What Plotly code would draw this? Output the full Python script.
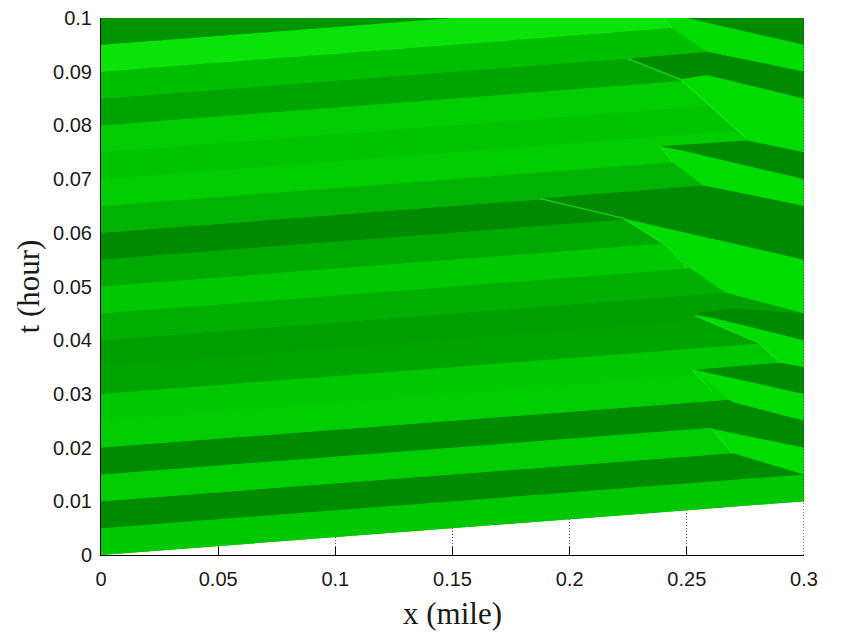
import plotly.graph_objects as go

# wave fronts entering at x=0, one band per 0.005 h
t_left = [0, 0.005, 0.01, 0.015, 0.02, 0.025, 0.03, 0.035, 0.04, 0.045,
          0.05, 0.055, 0.06, 0.065, 0.07, 0.075, 0.08, 0.085, 0.09, 0.095]
t_right = [0.01, 0.015, 0.02, 0.025, 0.03, 0.035, 0.04, 0.045, 0.05, 0.055,
           0.06, 0.065, 0.07, 0.075, 0.08, 0.085, 0.09, 0.095, 0.1, 0.105]
band_level = [0.70, 0.0, 0.76, 0.0, 0.76, 0.70, 0.30, 0.24, 0.41, 0.70,
              0.35, 0.0, 0.47, 0.76, 0.65, 0.76, 0.30, 0.59, 1.0, 0.12]

# light regions behind the shocks
light_x = [[0.2407, 0.3, 0.3, 0.2586, 0.2437],
           [0.2471, 0.2586, 0.3, 0.3, 0.2757],
           [0.2386, 0.2471, 0.3, 0.3, 0.2569, 0.2441],
           [0.2228, 0.3, 0.3, 0.2663, 0.2514, 0.2415],
           [0.2535, 0.2612, 0.3, 0.3, 0.2898, 0.2812],
           [0.2522, 0.3, 0.3, 0.2697],
           [0.2607, 0.2654, 0.3, 0.3, 0.2693]]
light_t = [[0.1, 0.1, 0.09, 0.0937, 0.0981],
           [0.0886, 0.0894, 0.085, 0.075, 0.0772],
           [0.0761, 0.0754, 0.07, 0.065, 0.0688, 0.0731],
           [0.0627, 0.055, 0.045, 0.0489, 0.0534, 0.0576],
           [0.0446, 0.0442, 0.04, 0.035, 0.0358, 0.0394],
           [0.0345, 0.03, 0.025, 0.0284],
           [0.0235, 0.0231, 0.02, 0.015, 0.019]]
light_level = 0.92

# dark regions on the right of the road
dark_x = [[0.2501, 0.3, 0.3],
          [0.2249, 0.2586, 0.3, 0.3, 0.2586, 0.2471],
          [0.2386, 0.2757, 0.3, 0.3, 0.2471],
          [0.1873, 0.2569, 0.3, 0.3, 0.2228],
          [0.2535, 0.2697, 0.3, 0.3, 0.2612],
          [0.2535, 0.2898, 0.3, 0.3],
          [0.2599, 0.2697, 0.3, 0.3, 0.2654, 0.2607]]
dark_t = [[0.1, 0.1, 0.095],
          [0.0924, 0.0937, 0.09, 0.085, 0.0894, 0.0886],
          [0.0761, 0.0772, 0.075, 0.07, 0.0754],
          [0.0664, 0.0688, 0.065, 0.055, 0.0627],
          [0.045, 0.0459, 0.045, 0.04, 0.0442],
          [0.0345, 0.0358, 0.035, 0.03],
          [0.0287, 0.0284, 0.025, 0.02, 0.0231, 0.0235]]
dark_level = 0.0

# thin bright lines along the shocks
shock_x = [[0.2407, 0.2437], [0.2249, 0.2471, 0.2757], [0.2386, 0.2441],
           [0.1873, 0.2228, 0.2415, 0.2501], [0.2535, 0.2812, 0.2898],
           [0.2522, 0.2607], [0.2607, 0.2693]]
shock_t = [[0.1, 0.0981], [0.0924, 0.0886, 0.0776], [0.0761, 0.0731],
           [0.0664, 0.0627, 0.0576, 0.0535], [0.0446, 0.0394, 0.0358],
           [0.0345, 0.0305], [0.0235, 0.019]]

x_ticks = [0, 0.05, 0.1, 0.15, 0.2, 0.25, 0.3]
x_labels = ["0", "0.05", "0.1", "0.15", "0.2", "0.25", "0.3"]
t_ticks = [0, 0.01, 0.02, 0.03, 0.04, 0.05, 0.06, 0.07, 0.08, 0.09, 0.1]
t_labels = ["0", "0.01", "0.02", "0.03", "0.04", "0.05", "0.06", "0.07", "0.08", "0.09", "0.1"]


def shade(level):
    # the very top of the scale goes a little towards white
    side = 10 if level >= 1 else 0
    return "rgb(%d,%d,%d)" % (side, round(138 + 88 * level), side)


def patch(x, t, level):
    return go.Scatter(x=x, y=t, mode="lines", fill="toself", fillcolor=shade(level),
                      line=dict(width=0), hoverinfo="skip", showlegend=False)


fig = go.Figure()

# background so the seams between bands stay green
fig.add_trace(patch([0, 0.3, 0.3, 0], [0, 0.01, 0.1, 0.1], 0.7))

for i in range(len(t_left)):
    fig.add_trace(patch([0, 0.3, 0.3, 0],
                        [t_left[i], t_right[i], t_right[i] + 0.005, t_left[i] + 0.005],
                        band_level[i]))

for i in range(len(light_x)):
    fig.add_trace(patch(light_x[i], light_t[i], light_level))

for i in range(len(dark_x)):
    fig.add_trace(patch(dark_x[i], dark_t[i], dark_level))

for i in range(len(shock_x)):
    fig.add_trace(go.Scatter(x=shock_x[i], y=shock_t[i], mode="lines",
                             line=dict(color="rgb(25,232,25)", width=1.5),
                             opacity=0.7, hoverinfo="skip", showlegend=False))

# last grid line, plotly leaves it out at the edge of the axis
fig.add_trace(go.Scatter(x=[0.3, 0.3], y=[0, 0.1], mode="lines",
                         line=dict(color="black", width=1, dash="1px,2px"),
                         hoverinfo="skip", showlegend=False, cliponaxis=False))

fig.update_layout(
    width=841,
    height=632,
    margin=dict(l=101, r=37, t=18, b=77),
    plot_bgcolor="white",
    paper_bgcolor="white",
    showlegend=False,
    font=dict(family="Liberation Sans", color="#1a1a1a", size=20),
    xaxis=dict(
        range=[0, 0.3],
        tickvals=x_ticks,
        ticktext=x_labels,
        ticks="inside",
        ticklen=8,
        tickcolor="black",
        ticklabelstandoff=6,
        showline=True,
        linecolor="black",
        linewidth=1,
        showgrid=True,
        gridcolor="#555555",
        griddash="1px,2px",
        gridwidth=1,
        zeroline=False,
        automargin=False,
        layer="below traces",
        title=dict(text="x (mile)", font=dict(family="Liberation Serif", size=31), standoff=13),
    ),
    yaxis=dict(
        range=[0, 0.1],
        tickvals=t_ticks,
        ticktext=t_labels,
        ticks="inside",
        ticklen=8,
        tickcolor="black",
        ticklabelstandoff=4,
        showline=True,
        linecolor="black",
        linewidth=1,
        showgrid=True,
        gridcolor="#555555",
        griddash="1px,2px",
        gridwidth=1,
        zeroline=False,
        automargin=False,
        layer="below traces",
        title=dict(text="t (hour)", font=dict(family="Liberation Serif", size=31), standoff=4),
    ),
)

# no body margin, so the figure sits at the corner of the page
fig.write_html("out.html", config=dict(displayModeBar=False),
               post_script="document.body.style.margin='0';")
